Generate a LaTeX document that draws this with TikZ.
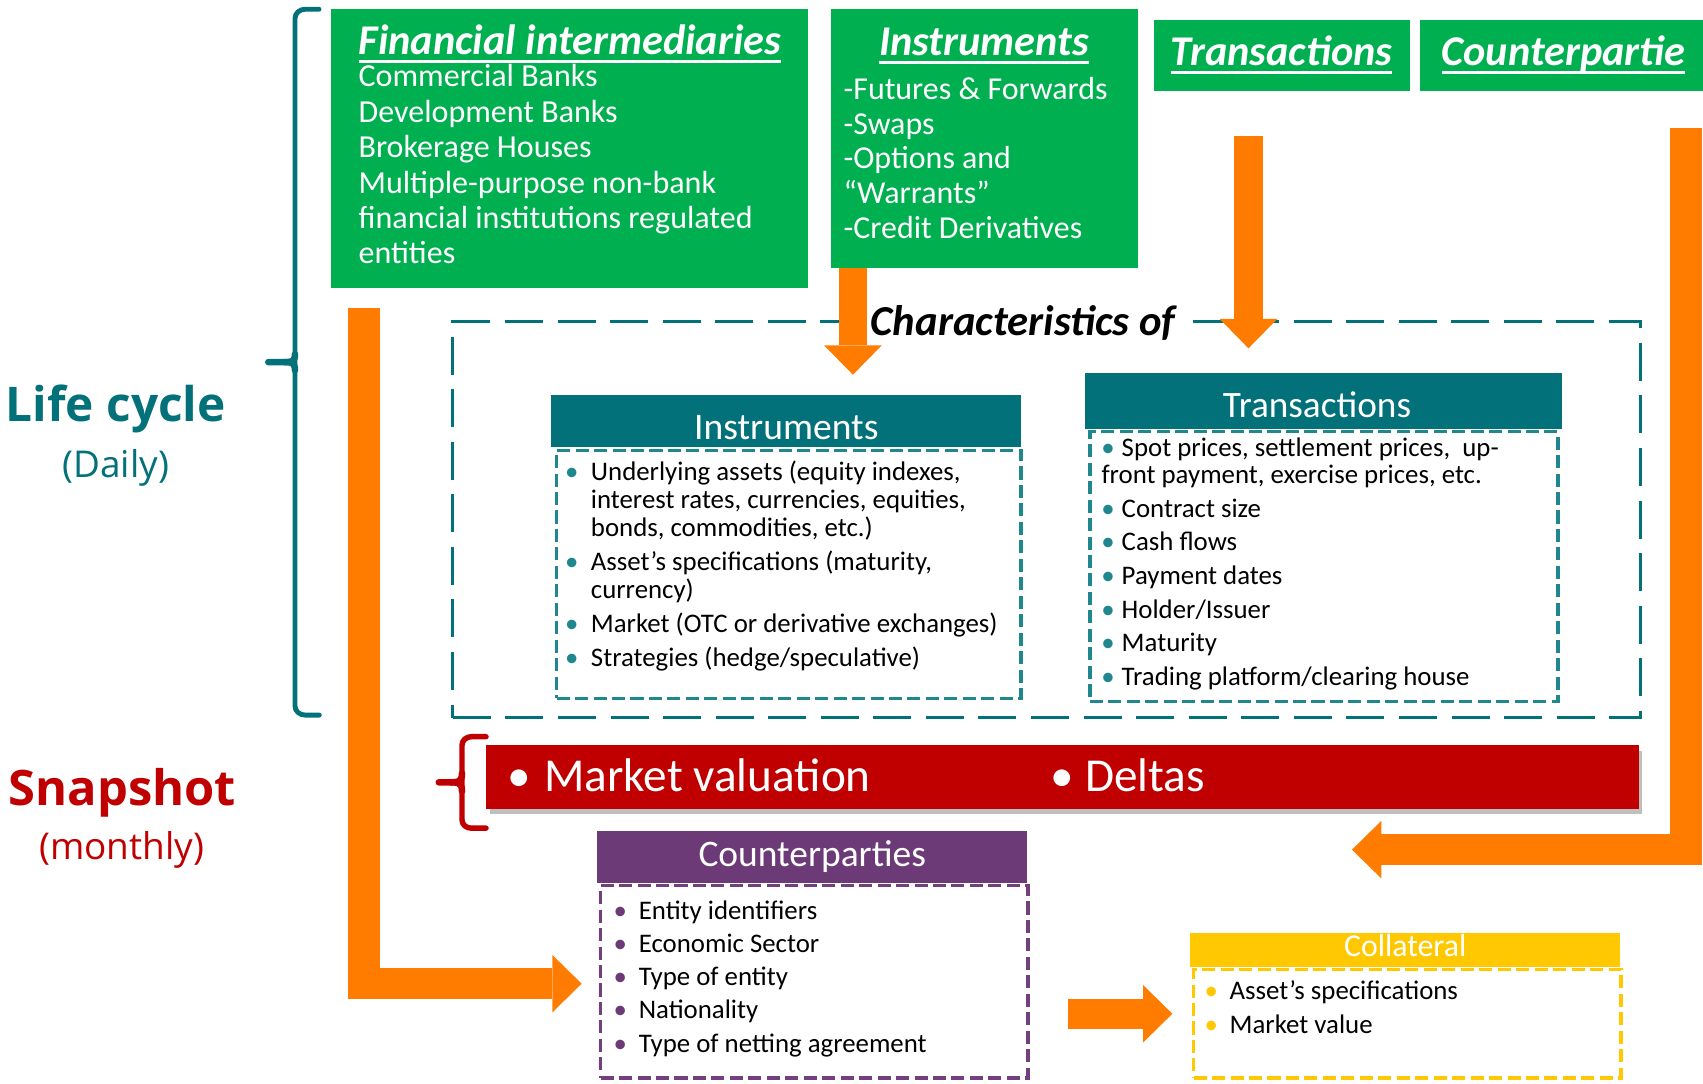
\documentclass[tikz,border=0pt]{standalone}
\usepackage{fontspec}
\setmainfont{Carlito}
\newfontfamily\osans{Open Sans}
\usetikzlibrary{arrows.meta,shadows}
\definecolor{cgreen}{HTML}{00B050}
\definecolor{cteal}{HTML}{03717A}
\definecolor{cteall}{HTML}{21878E}
\definecolor{corange}{HTML}{FF7C00}
\definecolor{cred}{HTML}{C00000}
\definecolor{cpurple}{HTML}{6B3A77}
\definecolor{cpurplel}{HTML}{733F7F}
\definecolor{cyellow}{HTML}{FFC800}
\newsavebox\ulbox
\newcommand\myul[1]{\sbox\ulbox{#1}\rlap{\rule[-7.6pt]{\wd\ulbox}{2.5pt}}\usebox\ulbox}
\newcommand\bul[3]{\makebox[#2][l]{\makebox[#3][c]{\textcolor{#1}{•}}}}
\newcommand\ind[1]{\hspace*{#1}}
\begin{document}
\begin{tikzpicture}[x=1pt,y=-1pt,
  gbox/.style={fill=cgreen, inner sep=0pt, anchor=north west},
  gtitle/.style={inner sep=0pt, text=white, font=\fontsize{39}{41}\selectfont\bfseries\itshape},
  gbody/.style={inner sep=0pt, anchor=north west, align=left, text=white},
  hdr/.style={inner sep=0pt, anchor=north west, text=white},
  dbox/.style={draw, line width=3pt, dash pattern=on 12pt off 5pt, inner sep=0pt, anchor=north west},
  lst/.style={inner sep=0pt, anchor=north west, align=left, text=black},
  oarr/.style={draw=corange, line cap=butt, line join=miter, -{Triangle[width=53pt,length=27pt,line width=0pt]}},
  brc/.style={line cap=round, line join=round}
]
\useasboundingbox (0,0) rectangle (1568,998);
\fill[white] (0,0) rectangle (1568,998);

% ---- green boxes
\node[gbox, minimum width=438.6pt, minimum height=257.6pt] (fin) at (305,7.7) {};
\node[gbox, minimum width=283pt, minimum height=239pt] (ins) at (765,7.7) {};
\node[gbox, minimum width=235.4pt, minimum height=65.7pt] (tra) at (1062.6,17.8) {};
\node[gbox, minimum width=260.4pt, minimum height=65.7pt] (cpt) at (1307.6,17.8) {};

\node[gtitle, anchor=base west] (fint) at (330,50.6) {\myul{Financial intermediaries}};
\node[gbody, font=\fontsize{29.5}{32.6}\selectfont] (finb) at (330,58.7) {\rule{0pt}{21pt}Commercial Banks\\Development Banks\\Brokerage Houses\\Multiple-purpose non-bank\\financial institutions regulated\\entities};
\node[gtitle, anchor=base] (inst) at (906,51.5) {\myul{Instruments}};
\node[gbody, font=\fontsize{29.4}{32.2}\selectfont] (insb) at (776.5,61) {\rule{0pt}{30pt}-Futures \& Forwards\\-Swaps\\-Options and\\“Warrants”\\-Credit Derivatives};
\node[gtitle, anchor=base] (trat) at (1180,60.5) {\myul{Transactions}};
\node[gtitle, anchor=base] (cptt) at (1439.5,60.5) {\myul{Counterpartie}};

% ---- characteristics frame
\node[draw=cteal, line width=3pt, dash pattern=on 35pt off 13.4pt, inner sep=0pt, anchor=north west, minimum width=1093.4pt, minimum height=364.7pt] (chbox) at (415.4,294.7) {};
\node[anchor=base west, inner sep=0pt, fill=white, text=black, font=\fontsize{39.3}{41}\selectfont\bfseries\itshape] (chr) at (796.6,309) {\hspace*{5pt}Characteristics of\hspace*{16pt}};

% ---- Instruments characteristics
\node[hdr, fill=cteal, minimum width=432.5pt, text height=40.3pt, text depth=7.7pt, font=\fontsize{34.6}{36}\selectfont] (insh) at (507.5,363.7) {Instruments};
\node[dbox, draw=cteall, minimum width=427.5pt, minimum height=228.5pt] (insd) at (511,413) {};
\node[lst, font=\fontsize{24.7}{25.7}\selectfont] (insl) at (520.3,420) {\rule{0pt}{22pt}\bul{cteall}{23.6pt}{12pt}Underlying assets (equity indexes,\\
\ind{23.6pt}interest rates, currencies, equities,\\
\ind{23.6pt}bonds, commodities, etc.)\\[5.7pt]
\bul{cteall}{23.6pt}{12pt}Asset’s specifications (maturity,\\
\ind{23.6pt}currency)\\[5.7pt]
\bul{cteall}{23.6pt}{12pt}Market (OTC or derivative exchanges)\\[5.7pt]
\bul{cteall}{23.6pt}{12pt}Strategies (hedge/speculative)};

% ---- Transactions characteristics
\node[hdr, fill=cteal, minimum width=438.8pt, text height=41.2pt, text depth=11pt, font=\fontsize{34.3}{36}\selectfont] (trah) at (999,342.8) {Transactions\hspace*{12pt}};
\node[dbox, draw=cteall, minimum width=431pt, minimum height=248.5pt] (trad) at (1002,396) {};
\node[lst, font=\fontsize{24.7}{25.2}\selectfont] (tral) at (1014,397.8) {\rule{0pt}{22pt}\bul{cteall}{18.6pt}{12pt}Spot prices, settlement prices,~ up-\\
front payment, exercise prices, etc.\\[5.8pt]
\bul{cteall}{18.6pt}{12pt}Contract size\\[5.8pt]
\bul{cteall}{18.6pt}{12pt}Cash flows\\[5.8pt]
\bul{cteall}{18.6pt}{12pt}Payment dates\\[5.8pt]
\bul{cteall}{18.6pt}{12pt}Holder/Issuer\\[5.8pt]
\bul{cteall}{18.6pt}{12pt}Maturity\\[5.8pt]
\bul{cteall}{18.6pt}{12pt}Trading platform/clearing house};

% ---- Snapshot bar
\node[fill=cred, inner sep=0pt, anchor=north west, minimum width=1061.5pt, minimum height=58.5pt,
  drop shadow={shadow xshift=3pt, shadow yshift=-5pt, opacity=0.25, fill=black}] (val) at (447.5,685.8) {};
\node[anchor=base west, inner sep=0pt, text=white, font=\fontsize{43.5}{46}\selectfont] (mval) at (467.9,729) {\bul{white}{33.1pt}{20pt}Market valuation};
\node[anchor=base west, inner sep=0pt, text=white, font=\fontsize{43.5}{46}\selectfont] (delt) at (967.4,729) {\bul{white}{31.6pt}{20pt}Deltas};

% ---- Counterparties
\node[hdr, fill=cpurple, minimum width=395.9pt, text height=33pt, text depth=14.7pt, font=\fontsize{34.5}{36}\selectfont] (cph) at (549.7,765) {Counterparties};
\node[dbox, draw=cpurplel, minimum width=393.5pt, minimum height=177pt] (cpd) at (551.5,814) {};
\node[lst, font=\fontsize{24.7}{30.6}\selectfont] (cpl) at (565,824) {\rule{0pt}{22pt}\bul{cpurple}{23pt}{12pt}Entity identifiers\\
\bul{cpurple}{23pt}{12pt}Economic Sector\\
\bul{cpurple}{23pt}{12pt}Type of entity\\
\bul{cpurple}{23pt}{12pt}Nationality\\
\bul{cpurple}{23pt}{12pt}Type of netting agreement};

% ---- Collateral
\node[hdr, fill=cyellow, minimum width=395.9pt, text height=22.4pt, text depth=9.2pt, font=\fontsize{29.3}{30}\selectfont] (colh) at (1095.7,858.4) {Collateral};
\node[dbox, draw=cyellow, minimum width=393.5pt, minimum height=100pt] (cold) at (1097.5,891) {};
\node[lst, font=\fontsize{24.7}{31.4}\selectfont] (coll) at (1109,898) {\rule{0pt}{22pt}\bul{cyellow}{23pt}{12pt}Asset’s specifications\\
\bul{cyellow}{23pt}{12pt}Market value};

% ---- side labels
\node[anchor=base, inner sep=0pt, text=cteal, font=\osans\bfseries\fontsize{44}{48}\selectfont] (life) at (106.6,388) {Life cycle};
\node[anchor=base, inner sep=0pt, text=cteal, font=\osans\fontsize{34}{38}\selectfont] (daily) at (106.6,439.7) {(Daily)};
\node[anchor=base, inner sep=0pt, text=cred, font=\osans\bfseries\fontsize{45}{48}\selectfont] (snap) at (112.7,742) {Snapshot};
\node[anchor=base, inner sep=0pt, text=cred, font=\osans\fontsize{34}{38}\selectfont] (month) at (112,791.5) {(monthly)};

% ---- braces
\draw[brc, cteal, line width=4.5pt] (293.7,8.5) -- (281,8.5) to[out=180,in=90] (271.6,17) -- (271.6,650) to[out=-90,in=180] (281,658.4) -- (294,658.4);
\draw[brc, cteal, line width=6pt] (271.6,326) .. controls (271.6,333.4) and (268,333.4) .. (262,333.4) -- (247,333.4);
\draw[brc, cteal, line width=6pt] (271.6,341) .. controls (271.6,333.4) and (268,333.4) .. (262,333.4);
\draw[brc, cred, line width=5pt] (447.5,678.3) -- (434,678.3) to[out=180,in=90] (425.4,686) -- (425.4,755) to[out=-90,in=180] (434,762.5) -- (447.5,762.5);
\draw[brc, cred, line width=6pt] (425.4,712) .. controls (425.4,720.3) and (421,720.3) .. (415,720.3) -- (404,720.3);
\draw[brc, cred, line width=6pt] (425.4,728.5) .. controls (425.4,720.3) and (421,720.3) .. (415,720.3);

% ---- orange arrows
\coordinate (a1e) at (785.3,345);
\coordinate (a2s) at (1149.5,125);
\coordinate (a2e) at (1149.5,320.7);
\coordinate (a3s) at (1552.4,117.6);
\coordinate (a3e) at (1244.8,782.3);
\coordinate (a4s) at (335,283.7);
\coordinate (a4e) at (535.5,905.7);
\coordinate (a5s) at (983.4,933.4);
\coordinate (a5e) at (1079.4,933.4);
\draw[oarr, line width=26pt] (ins.south west -| a1e) -- (a1e);
\draw[oarr, line width=26.5pt] (a2s) -- (a2e);
\draw[oarr, line width=28.7pt] (a3s) |- (a3e);
\draw[oarr, line width=29pt] (a4s) |- (a4e);
\draw[oarr, line width=27.5pt] (a5s) -- (a5e);
\end{tikzpicture}
\end{document}
